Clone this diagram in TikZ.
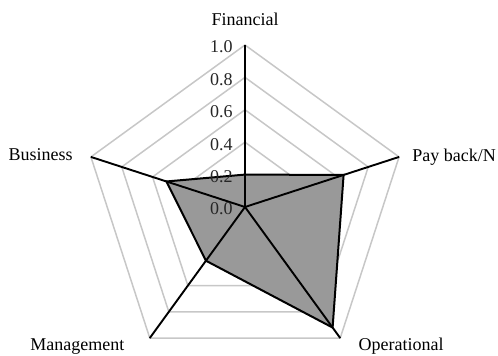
\documentclass[tikz,border=0pt]{standalone}
\usepackage{fontspec}
\setmainfont{Liberation Serif}
\usetikzlibrary{calc}
\tikzset{
	ring/.style={draw=black!22, line width=0.75pt},
	spoke/.style={draw=black, line width=0.95pt},
	score/.style={fill=black!40, draw=black, line width=1pt, line join=miter},
	ticklabel/.style={anchor=east, inner sep=0pt, text=black!85, font=\fontsize{9}{10}\selectfont},
	axislabel/.style={inner sep=0pt, font=\fontsize{9}{10}\selectfont}
}

\begin{document}
\begin{tikzpicture}[x=0.5pt, y=0.5pt]
			\useasboundingbox (-245,-149) rectangle (253,207);

			% grid rings
			\foreach \r in {0.2,0.4,0.6,0.8,1.0}
				\draw[ring] (90:162*\r) -- (18:162*\r) -- (-54:162*\r) -- (-126:162*\r) -- (162:162*\r) -- cycle;

			% scores
			\draw[score] (90:162*0.2) -- (18:162*0.64) -- (-54:162*0.92) -- (-126:162*0.41) -- (162:162*0.51) -- cycle;

			% spokes
			\foreach \a/\n in {90/fin, 18/pay, -54/ope, -126/man, 162/bus}
				\draw[spoke] (0,0) -- (\a:162) coordinate (\n);

			\node[axislabel, anchor=south] (finlabel) at ($(fin)+(0,19)$) {Financial};
			\node[axislabel, anchor=west] (paylabel) at ($(pay)+(13,0)$) {Pay back/N};
			\node[axislabel, anchor=base west] (opelabel) at ($(ope)+(18,-12)$) {Operational};
			\node[axislabel, anchor=base east] (manlabel) at ($(man)+(-25,-12)$) {Management};
			\node[axislabel, anchor=east] (buslabel) at ($(bus)+(-18,2)$) {Business};

			\foreach \v/\t [count=\i] in {0/0.0, 0.2/0.2, 0.4/0.4, 0.6/0.6, 0.8/0.8, 1/1.0}
				\node[ticklabel] (tick\i) at (-12,162*\v-2) {\t};
		\end{tikzpicture}
\end{document}
